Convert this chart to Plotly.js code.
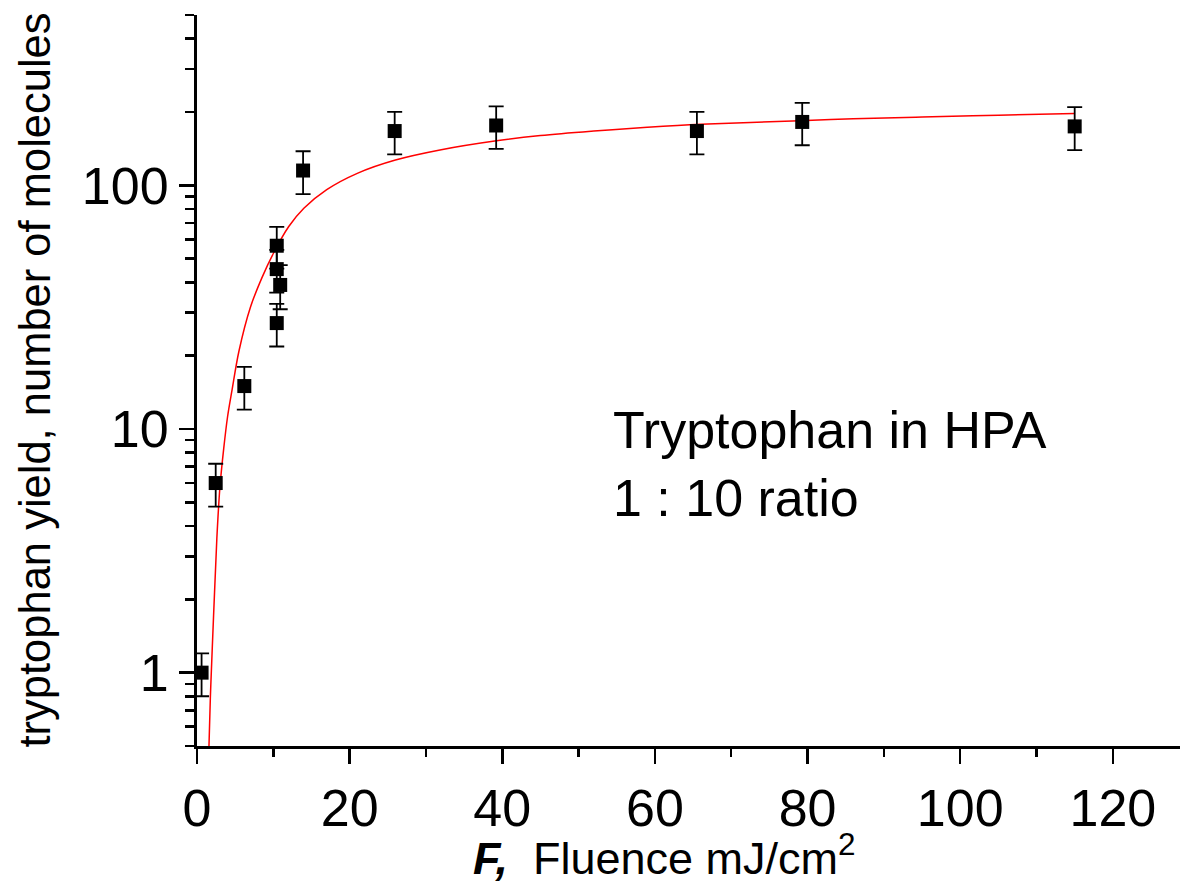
<!DOCTYPE html>
<html>
<head>
<meta charset="utf-8">
<script src="https://cdn.plot.ly/plotly-3.0.1.min.js"></script>
<style>
  html, body { margin: 0; padding: 0; background: #fff; }
  #chart { width: 1180px; height: 883px; }
</style>
</head>
<body>
<div id="chart"></div>
<script>
// Measured data points (fluence mJ/cm^2, yield, error)
const fluence = [0.6, 2.45, 6.2, 10.45, 10.45, 10.9, 10.45, 13.9, 25.9, 39.2, 65.5, 79.3, 115.0];
const yieldVals = [1.0, 6.0, 15.0, 27.2, 45.3, 39.0, 56.5, 115, 167, 176, 167, 182, 174.5];
const yieldErr = [0.2, 1.2, 3.0, 5.4, 9, 8, 11, 23, 33, 35, 33, 36, 35];

// Fit curve
const fitF = [1.57, 1.75, 2.0, 2.3, 2.6, 3.0, 3.5, 4.0, 4.6, 5.5, 7.0, 8.5, 10, 12, 14, 17, 21, 26, 32, 39, 45, 52, 59, 66, 79, 86, 95, 105, 115];
const fitY = [0.50, 0.79, 1.26, 2.14, 3.55, 5.75, 8.3, 11.2, 14.5, 20.9, 31.6, 41.7, 52.5, 67.6, 80.5, 96, 112, 127, 140, 152, 160, 167, 173, 178, 184, 187.5, 190.5, 194, 197];

// Axis ticks
const xTicks = [0, 20, 40, 60, 80, 100, 120];
const xMinor = [10, 30, 50, 70, 90, 110];
const yTicks = [1, 10, 100];
const yTickText = ['1', '10', '100'];
const yMinor = [0.5, 0.6, 0.7, 0.8, 0.9, 2, 3, 4, 5, 6, 7, 8, 9, 20, 30, 40, 50, 60, 70, 80, 90, 200, 300, 400, 500];

const FONT = '"Liberation Sans", Arial, sans-serif';

const traces = [
  {
    x: fitF, y: fitY, type: 'scatter', mode: 'lines',
    line: { color: '#ff0000', width: 1.5, shape: 'spline', smoothing: 1.0 },
    hoverinfo: 'skip', showlegend: false
  },
  {
    x: fluence, y: yieldVals, type: 'scatter', mode: 'markers',
    marker: { symbol: 'square', size: 14, color: '#000' },
    error_y: { type: 'data', array: yieldErr, visible: true, color: '#000', thickness: 1.8, width: 7.5 },
    cliponaxis: false, showlegend: false
  }
];

const layout = {
  width: 1180, height: 883,
  margin: { l: 197, r: 0, t: 15, b: 137 },
  paper_bgcolor: '#fff', plot_bgcolor: '#fff',
  showlegend: false,
  font: { family: FONT, color: '#000' },
  xaxis: {
    range: [0, 128.8],
    tickmode: 'array', tickvals: xTicks,
    ticks: 'outside', ticklen: 15, tickwidth: 2.5, tickcolor: '#000',
    minor: { tickmode: 'array', tickvals: xMinor, ticks: 'outside', ticklen: 8, tickwidth: 2.5, tickcolor: '#000', showgrid: false },
    showline: true, linecolor: '#000', linewidth: 3,
    showgrid: false, zeroline: false,
    tickfont: { family: FONT, size: 52, color: '#000' }
  },
  yaxis: {
    type: 'log',
    range: [Math.log10(0.5), Math.log10(500)],
    tickmode: 'array', tickvals: yTicks, ticktext: yTickText,
    ticks: 'outside', ticklen: 15, tickwidth: 2.5, tickcolor: '#000',
    minor: { tickmode: 'array', tickvals: yMinor, ticks: 'outside', ticklen: 9, tickwidth: 2.5, tickcolor: '#000', showgrid: false },
    showline: true, linecolor: '#000', linewidth: 3,
    showgrid: false, zeroline: false,
    tickfont: { family: FONT, size: 52, color: '#000' }
  },
  annotations: [
    {
      text: 'Tryptophan in HPA<br>1 : 10 ratio',
      xref: 'paper', yref: 'paper',
      x: (611 - 197) / 983, y: 0.386,
      xanchor: 'left', yanchor: 'middle', align: 'left',
      showarrow: false,
      font: { family: FONT, size: 52, color: '#000' }
    },
    {
      text: '<b><i>F,</i></b>&nbsp; Fluence mJ/cm<sup>2</sup>',
      xref: 'paper', yref: 'paper',
      x: 0.4755, y: -0.149,
      xanchor: 'center', yanchor: 'middle',
      showarrow: false,
      font: { family: FONT, size: 45, color: '#000' }
    },
    {
      text: 'tryptophan yield, number of molecules',
      xref: 'paper', yref: 'paper',
      x: (34 - 197) / 983, y: 0.5,
      xanchor: 'center', yanchor: 'middle',
      textangle: -90,
      showarrow: false,
      font: { family: FONT, size: 43.5, color: '#000' }
    }
  ]
};

Plotly.newPlot('chart', traces, layout, { displayModeBar: false, staticPlot: true });
</script>
</body>
</html>
